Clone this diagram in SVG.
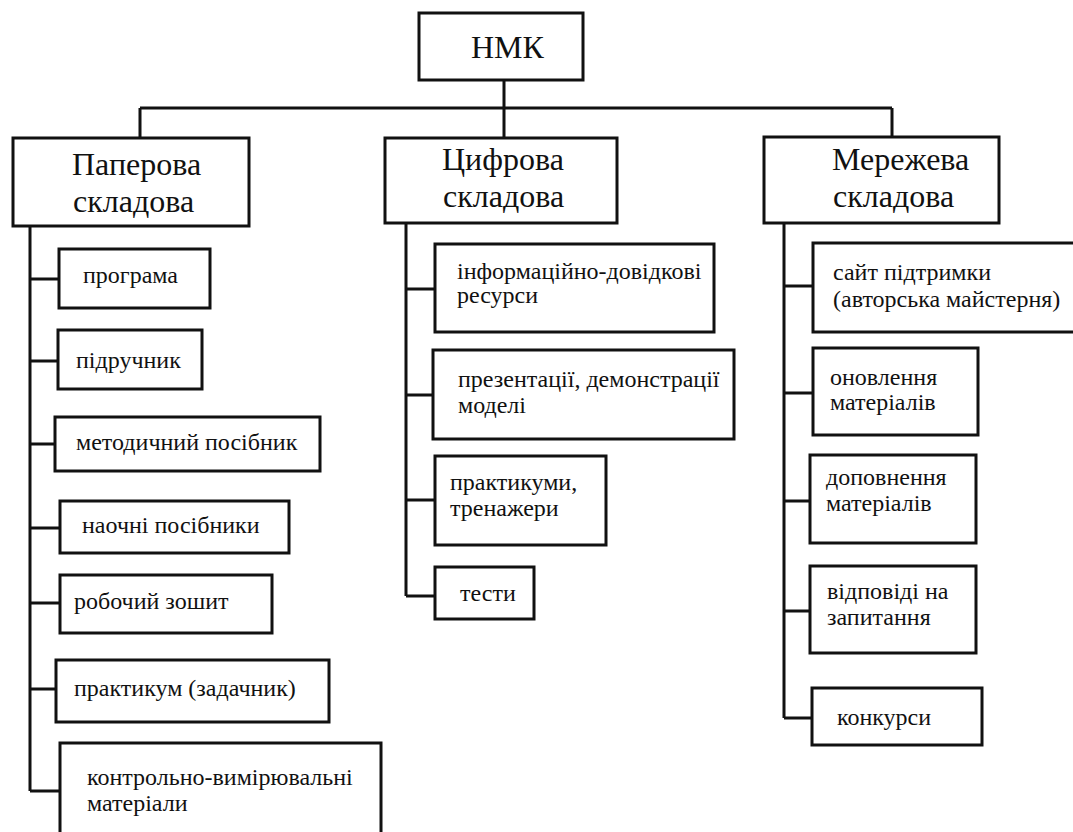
<svg xmlns="http://www.w3.org/2000/svg" width="1073" height="832" viewBox="0 0 1073 832" xml:lang="uk">
<defs>
<rect id="unused" width="0" height="0"/>
</defs>
<rect width="1073" height="832" fill="#fff"/>
<g id="connectors" fill="none" stroke="#111" stroke-width="3">
<path d="M504 80V108M140 108H892M140 108V138M504 108V138M892 108V137"/>
<path d="M30 226V791M30 279H59M30 361H58M30 444H55M30 528H60M30 603H60M30 689H56M30 791H60"/>
<path d="M406 223V596M406 289H435M406 395H433M406 500H435M406 596H435"/>
<path d="M784 223V718M784 286H813M784 393H813M784 501H810M784 611H810M784 718H812"/>
</g>
<g id="nodes">
<g fill="#fff" stroke="#111" stroke-width="3">
<rect id="root-box" x="419" y="13" width="164" height="67"/>
<rect id="paper-box" x="13" y="138" width="236" height="88"/>
<rect id="digital-box" x="385" y="138" width="232" height="85"/>
<rect id="network-box" x="764" y="137" width="235" height="86"/>
<rect id="p1-box" x="59" y="249" width="151" height="59"/>
<rect id="p2-box" x="58" y="330" width="144" height="59"/>
<rect id="p3-box" x="55" y="417" width="265" height="54"/>
<rect id="p4-box" x="60" y="501" width="229" height="52"/>
<rect id="p5-box" x="60" y="575" width="212" height="58"/>
<rect id="p6-box" x="56" y="660" width="273" height="62"/>
<rect id="p7-box" x="60" y="743" width="321" height="100"/>
<rect id="d1-box" x="435" y="244" width="279" height="88"/>
<rect id="d2-box" x="433" y="350" width="301" height="89"/>
<rect id="d3-box" x="435" y="456" width="171" height="89"/>
<rect id="d4-box" x="435" y="567" width="99" height="52"/>
<rect id="n1-box" x="813" y="243" width="270" height="89"/>
<rect id="n2-box" x="813" y="348" width="165" height="87"/>
<rect id="n3-box" x="810" y="455" width="166" height="88"/>
<rect id="n4-box" x="810" y="566" width="166" height="87"/>
<rect id="n5-box" x="812" y="688" width="170" height="57"/>
</g>
<g fill="#111" font-size="32">
<text font-family="Liberation Serif" x="471" y="58">НМК</text>
<text font-family="Liberation Serif" x="72" y="175">Паперова</text>
<text font-family="Liberation Serif" x="73" y="212">складова</text>
<text font-family="Liberation Serif" x="442" y="170">Цифрова</text>
<text font-family="Liberation Serif" x="443" y="207">складова</text>
<text font-family="Liberation Serif" x="832" y="170">Мережева</text>
<text font-family="Liberation Serif" x="833" y="207">складова</text>
</g>
<g fill="#111" font-size="24">
<text font-family="Liberation Serif" x="83" y="283">програма</text>
<text font-family="Liberation Serif" x="76" y="368">підручник</text>
<text font-family="Liberation Serif" x="76" y="450">методичний посібник</text>
<text font-family="Liberation Serif" x="82" y="533">наочні посібники</text>
<text font-family="Liberation Serif" x="74" y="609">робочий зошит</text>
<text font-family="Liberation Serif" x="74" y="696">практикум (задачник)</text>
<text font-family="Liberation Serif" x="87" y="785">контрольно-вимірювальні</text>
<text font-family="Liberation Serif" x="87" y="811">матеріали</text>
<text font-family="Liberation Serif" x="457" y="279">інформаційно-довідкові</text>
<text font-family="Liberation Serif" x="457" y="303">ресурси</text>
<text font-family="Liberation Serif" x="458" y="387">презентації, демонстрації</text>
<text font-family="Liberation Serif" x="458" y="413">моделі</text>
<text font-family="Liberation Serif" x="450" y="490">практикуми,</text>
<text font-family="Liberation Serif" x="450" y="516">тренажери</text>
<text font-family="Liberation Serif" x="460" y="601">тести</text>
<text font-family="Liberation Serif" x="833" y="280">сайт підтримки</text>
<text font-family="Liberation Serif" x="833" y="307">(авторська майстерня)</text>
<text font-family="Liberation Serif" x="830" y="385">оновлення</text>
<text font-family="Liberation Serif" x="830" y="410">матеріалів</text>
<text font-family="Liberation Serif" x="826" y="485">доповнення</text>
<text font-family="Liberation Serif" x="826" y="511">матеріалів</text>
<text font-family="Liberation Serif" x="827" y="599">відповіді на</text>
<text font-family="Liberation Serif" x="827" y="625">запитання</text>
<text font-family="Liberation Serif" x="837" y="725">конкурси</text>
</g>
</g>
</svg>
